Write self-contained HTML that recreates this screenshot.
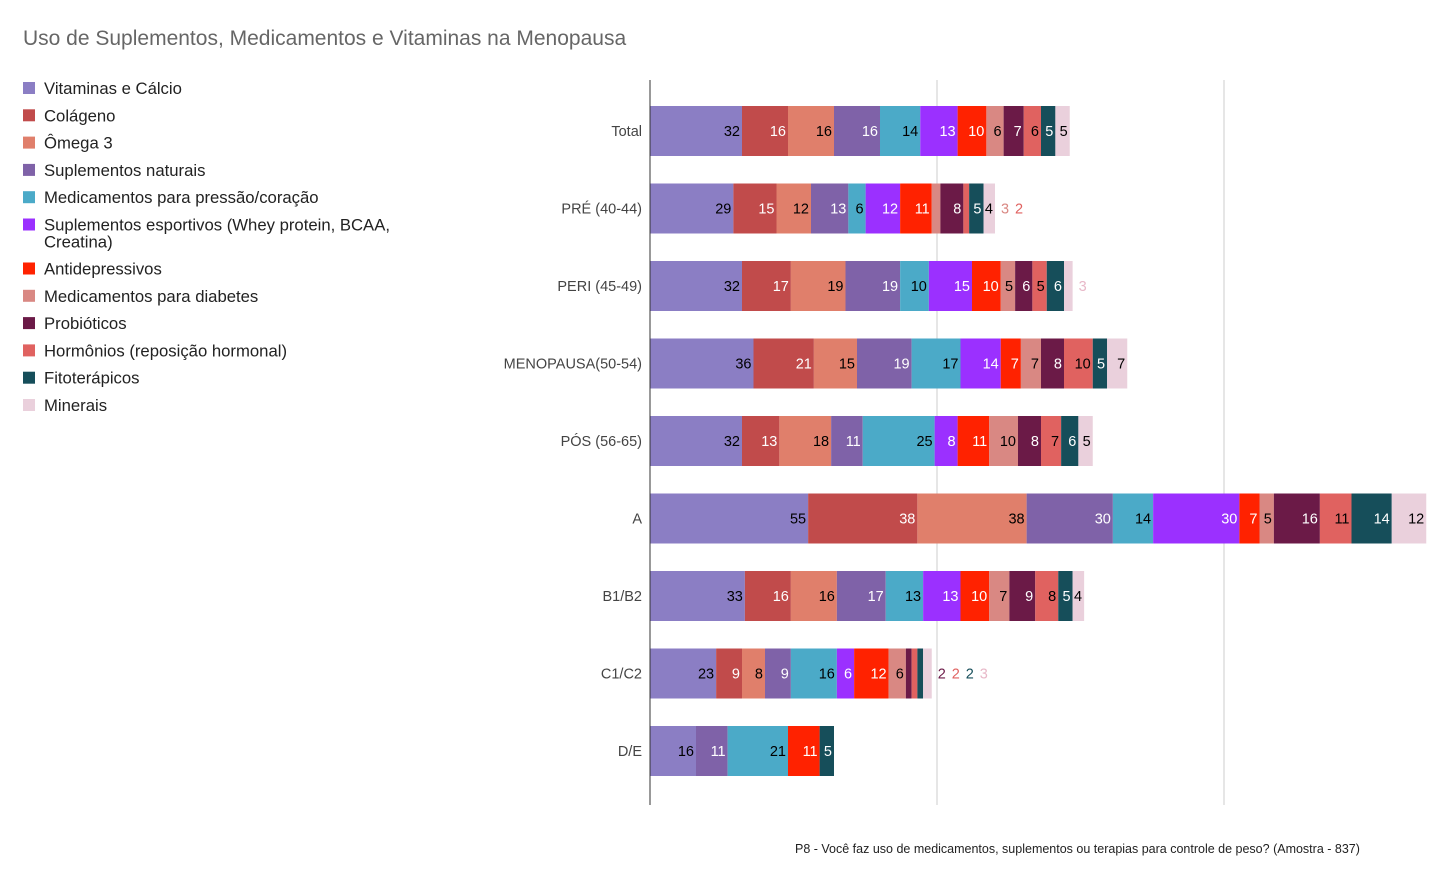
<!DOCTYPE html>
<html><head><meta charset="utf-8"><style>
body{margin:0;background:#fff;font-family:"Liberation Sans",Arial,sans-serif}
svg text{font-family:"Liberation Sans",Arial,sans-serif}
</style></head><body>
<svg id="c" width="1456" height="880" xmlns="http://www.w3.org/2000/svg">
<text x="23" y="45" font-size="21" fill="#666">Uso de Suplementos, Medicamentos e Vitaminas na Menopausa</text>
<text x="795" y="853" font-size="12.5" fill="#222">P8 - Você faz uso de medicamentos, suplementos ou terapias para controle de peso? (Amostra - 837)</text>
<line x1="937" y1="80" x2="937" y2="805" stroke="#ccc"/>
<line x1="1224" y1="80" x2="1224" y2="805" stroke="#ccc"/>
<g id="bars"></g><g id="legend"></g>
<line x1="650" y1="80" x2="650" y2="805" stroke="#333"/>
</svg>
<script>
const categories=["Total","PRÉ (40-44)","PERI (45-49)","MENOPAUSA(50-54)","PÓS (56-65)","A","B1/B2","C1/C2","D/E"];
const seriesNames=["Vitaminas e Cálcio","Colágeno","Ômega 3","Suplementos naturais","Medicamentos para pressão/coração","Suplementos esportivos (Whey protein, BCAA, Creatina)","Antidepressivos","Medicamentos para diabetes","Probióticos","Hormônios (reposição hormonal)","Fitoterápicos","Minerais"];
const vitaminas=[32,29,32,36,32,55,33,23,16];
const colageno=[16,15,17,21,13,38,16,9,0];
const omega3=[16,12,19,15,18,38,16,8,0];
const naturais=[16,13,19,19,11,30,17,9,11];
const pressao=[14,6,10,17,25,14,13,16,21];
const esportivos=[13,12,15,14,8,30,13,6,0];
const antidep=[10,11,10,7,11,7,10,12,11];
const diabetes=[6,3,5,7,10,5,7,6,0];
const probioticos=[7,8,6,8,8,16,9,2,0];
const hormonios=[6,2,5,10,7,11,8,2,0];
const fito=[5,5,6,5,6,14,5,2,5];
const minerais=[5,4,3,7,5,12,4,3,0];
const series=[vitaminas,colageno,omega3,naturais,pressao,esportivos,antidep,diabetes,probioticos,hormonios,fito,minerais];
const colors=["#8B7EC4","#C14B4B","#E07F6B","#7F62A8","#4BAAC8","#9B30FF","#FF2200","#D98883","#6B1A47","#E06260","#164E5A","#EAD0DC"];
const labelColors=["#000","#fff","#000","#fff","#000","#fff","#fff","#000","#fff","#000","#fff","#000"];
const NS="http://www.w3.org/2000/svg";
const x=v=>650+v*2.875;
const yc=i=>131+i*77.5;
const bars=document.getElementById('bars');
function mk(t,a){const e=document.createElementNS(NS,t);for(const k in a)e.setAttribute(k,a[k]);return e;}
categories.forEach((cat,i)=>{
  const t=mk('text',{x:642,y:yc(i)+5,'text-anchor':'end','font-size':14.5,fill:'#444'});
  
  
  t.textContent=cat;bars.appendChild(t);
  let acc=0;const outside=[];
  series.forEach((s,j)=>{
    const v=s[i];if(!v)return;
    const x0=x(acc),x1=x(acc+v);acc+=v;
    const r=mk('rect',{x:x0,y:yc(i)-25,width:x1-x0,height:50,fill:colors[j]});
    
    
    bars.appendChild(r);
    const w=String(v).length*8+2;
    if(x1-x0>=w){
      const l=mk('text',{x:x1-2,y:yc(i)+5,'text-anchor':'end','font-size':14.5,fill:labelColors[j]});
      
      
      l.textContent=v;bars.appendChild(l);
    } else outside.push([v,j]);
  });
  let ox=x(acc)+6;
  outside.forEach(([v,j])=>{
    const l=mk('text',{x:ox,y:yc(i)+5,'font-size':14.5,fill:colors[j]==="#EAD0DC"?"#e8b8c8":colors[j]});
    
    
    l.textContent=v;bars.appendChild(l);ox+=14;
  });
});
const lg=document.getElementById('legend');
let ly=88;
seriesNames.forEach((n,j)=>{
  const r=mk('rect',{x:23,y:ly-6,width:12,height:12,fill:colors[j]});
  
  
  lg.appendChild(r);
  const t=mk('text',{x:44,y:ly+6,'font-size':16.7,fill:'#222'});
  
  
  if(j===5){t.textContent="Suplementos esportivos (Whey protein, BCAA,";lg.appendChild(t);
    const t2=mk('text',{x:44,y:ly+23,'font-size':16.7,fill:'#222'});
    
    
    t2.textContent="Creatina)";lg.appendChild(t2);ly+=44;}
  else{t.textContent=n;lg.appendChild(t);ly+=27.3;}
});
</script>
</body></html>
